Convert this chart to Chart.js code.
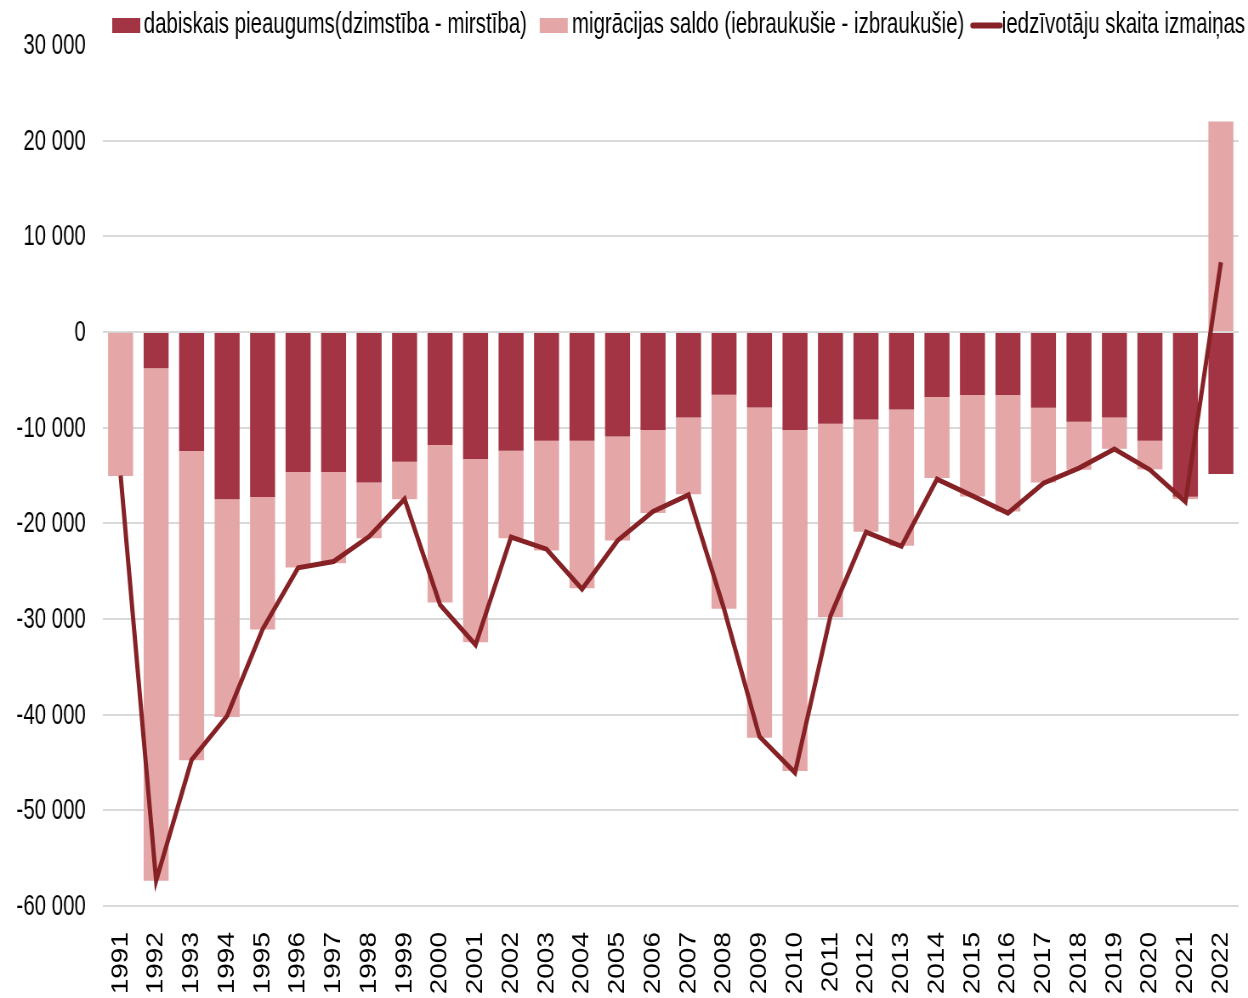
<!DOCTYPE html>
<html>
<head>
<meta charset="utf-8">
<script src="https://cdn.jsdelivr.net/npm/chart.js@4.4.1/dist/chart.umd.min.js"></script>
<style>
  html, body { margin: 0; padding: 0; background: #ffffff; overflow: hidden; }
  #wrap { width: 1248px; height: 998px; overflow: hidden; position: relative; }
  #c { display: block; transform: scaleX(0.85014); transform-origin: 0 0; }
</style>
</head>
<body>
<div id="wrap"><canvas id="c" width="1468" height="998"></canvas></div>
<script>
const categories = ['1991','1992','1993','1994','1995','1996','1997','1998','1999','2000',
  '2001','2002','2003','2004','2005','2006','2007','2008','2009','2010',
  '2011','2012','2013','2014','2015','2016','2017','2018','2019','2020','2021','2022'];

const naturalGrowth = [-100, -3800, -12450, -17470, -17260, -14640, -14640, -15720, -13560, -11820,
  -13280, -12420, -11370, -11370, -10920, -10250, -8930, -6560, -7890, -10250,
  -9590, -9140, -8100, -6800, -6590, -6590, -7920, -9380, -8930, -11370, -17220, -14850];

const migrationBalance = [-14960, -53570, -32320, -22770, -13850, -9980, -9520, -5830, -3910, -16460,
  -19150, -9130, -11480, -15410, -10880, -8680, -8020, -22380, -34510, -35640,
  -20220, -11750, -14250, -8470, -10610, -12170, -7810, -5020, -3280, -2990, -250, 22000];

const populationChange = [-15000, -57370, -44720, -40130, -31060, -24650, -23990, -21380, -17470, -28520,
  -32700, -21440, -22700, -26880, -21800, -18760, -17020, -28940, -42300, -46070,
  -29680, -20920, -22400, -15380, -17130, -18930, -15800, -14230, -12240, -14400, -17750, 7290];

const seriesLabels = [
  'dabiskais pieaugums(dzimstība - mirstība)',
  'migrācijas saldo (iebraukušie - izbraukušie)',
  'iedzīvotāju skaita izmaiņas'
];

const yMin = -60000, yMax = 30000, yStep = 10000;

const colNatural = '#A23444';
const colMigration = '#E5A6A7';
const colLine = '#862226';

const regularFont = '"Liberation Sans", Arial, sans-serif';
const NARROW = 0.83; // Arial-Narrow-like horizontal condensing

function fmt(v) {
  const s = Math.abs(v).toString().replace(/\B(?=(\d{3})+(?!\d))/g, ' ');
  return (v < 0 ? '-' : '') + s;
}

function narrowText(ctx, text, x, y, align) {
  ctx.save();
  ctx.translate(x, y);
  ctx.scale(NARROW, 1);
  ctx.textAlign = align;
  ctx.fillText(text, 0, 0);
  ctx.restore();
}

// y-axis tick labels in a condensed face, placed via the scale itself
const yLabelPlugin = {
  id: 'yNarrowLabels',
  afterDraw(chart) {
    const ctx = chart.ctx;
    const ys = chart.scales.y;
    ctx.save();
    ctx.font = '29px ' + regularFont;
    ctx.fillStyle = '#000';
    ctx.textBaseline = 'middle';
    ys.ticks.forEach(t => {
      const py = ys.getPixelForValue(t.value);
      narrowText(ctx, fmt(t.value), ys.right - 20, py + 1, 'right');
    });
    ctx.restore();
  }
};

const legendPlugin = {
  id: 'customLegend',
  afterDraw(chart) {
    const ctx = chart.ctx;
    ctx.save();
    ctx.font = '29px ' + regularFont;
    ctx.textBaseline = 'alphabetic';
    let x = 132;
    const items = [
      { type: 'box', color: colNatural, text: seriesLabels[0] },
      { type: 'box', color: colMigration, text: seriesLabels[1] },
      { type: 'line', color: colLine, text: seriesLabels[2] }
    ];
    items.forEach((it, i) => {
      if (it.type === 'box') {
        ctx.fillStyle = it.color;
        ctx.fillRect(x, 18, 33, 15);
        x += 33 + (i === 0 ? 4 : 5);
      } else {
        ctx.strokeStyle = it.color;
        ctx.lineWidth = 6;
        ctx.lineCap = 'round';
        ctx.beginPath();
        ctx.moveTo(x + 3, 25.5);
        ctx.lineTo(x + 35, 25.5);
        ctx.stroke();
        x += 37;
      }
      ctx.fillStyle = '#000';
      narrowText(ctx, it.text, x, 33, 'left');
      x += ctx.measureText(it.text).width * NARROW + (i === 0 ? 15 : 7);
    });
    ctx.restore();
  }
};

new Chart(document.getElementById('c'), {
  type: 'bar',
  data: {
    labels: categories,
    datasets: [
      {
        type: 'line',
        label: seriesLabels[2],
        data: populationChange,
        borderColor: colLine,
        backgroundColor: colLine,
        borderWidth: 5,
        pointRadius: 0,
        tension: 0,
        fill: false,
        stack: 'line',
        order: 1,
        borderJoinStyle: 'miter'
      },
      {
        label: seriesLabels[0],
        data: naturalGrowth,
        backgroundColor: colNatural,
        borderWidth: 0,
        stack: 'bars',
        order: 2,
        barPercentage: 0.705,
        categoryPercentage: 1.0
      },
      {
        label: seriesLabels[1],
        data: migrationBalance,
        backgroundColor: colMigration,
        borderWidth: 0,
        stack: 'bars',
        order: 3,
        barPercentage: 0.705,
        categoryPercentage: 1.0
      }
    ]
  },
  options: {
    responsive: false,
    animation: false,
    devicePixelRatio: 1,
    layout: { padding: { top: 45, right: 11, bottom: 0, left: 0 } },
    plugins: {
      legend: { display: false },
      tooltip: { enabled: false }
    },
    scales: {
      x: {
        stacked: true,
        grid: { display: false, drawTicks: false },
        border: { display: false },
        ticks: {
          autoSkip: false,
          minRotation: 90,
          maxRotation: 90,
          padding: 26,
          color: '#000',
          font: { family: regularFont, size: 28 }
        },
        afterFit(scale) {
          scale.height = 92;
          scale.paddingLeft = 0;
          scale.paddingRight = 0;
        }
      },
      y: {
        stacked: true,
        min: yMin,
        max: yMax,
        grid: {
          drawTicks: false,
          lineWidth: 2,
          color: (c) => (c.tick && c.tick.value === yMax) ? 'rgba(0,0,0,0)' : '#D9D9D9'
        },
        border: { display: false },
        ticks: {
          stepSize: yStep,
          display: false
        },
        afterFit(scale) {
          scale.width = 121;
          scale.paddingTop = 0;
          scale.paddingBottom = 0;
        }
      }
    }
  },
  plugins: [yLabelPlugin, legendPlugin]
});
</script>
</body>
</html>
